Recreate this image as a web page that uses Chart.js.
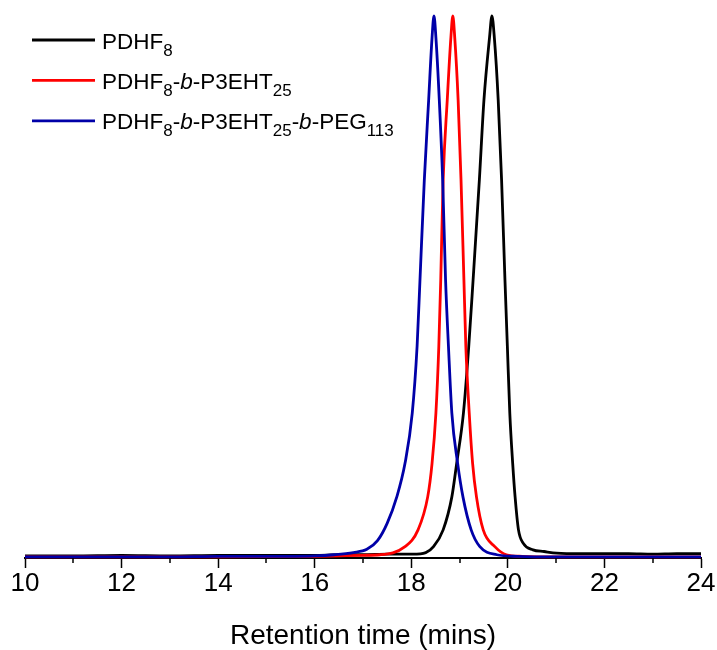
<!DOCTYPE html>
<html>
<head>
<meta charset="utf-8">
<script src="https://cdn.jsdelivr.net/npm/chart.js@4.4.0/dist/chart.umd.min.js"></script>
<style>
    html, body { margin: 0; padding: 0; background: #fff; }
</style>
</head>
<body>
<canvas id="GpcChart" width="717" height="650"></canvas>
<script>
// retention time (mins) and normalised RI signal
const pdhfTime = [10, 11, 12, 13, 14, 15, 16, 16.5, 17, 17.5, 18.03, 18.3, 18.46, 18.66, 18.84, 18.94,
    19.08, 19.19, 19.28, 19.41, 19.505, 19.62, 19.67, 19.72, 19.8, 19.87, 19.94, 19.99, 20.04, 20.1,
    20.15, 20.22, 20.32, 20.52, 20.75, 21.01, 21.5, 22, 22.5, 23, 23.5, 24];
const pdhfSignal = [0.002, 0.002, 0.003, 0.002, 0.003, 0.003, 0.003, 0.004, 0.004, 0.005, 0.005, 0.008, 0.019, 0.05, 0.111, 0.173,
    0.266, 0.389, 0.512, 0.697, 0.845, 0.96, 1.0, 0.96, 0.845, 0.697, 0.512, 0.389, 0.266, 0.173,
    0.111, 0.05, 0.025, 0.013, 0.01, 0.007, 0.006, 0.006, 0.006, 0.005, 0.006, 0.006];

const diblockTime = [10, 12, 14, 16, 16.5, 17, 17.35, 17.87, 18.14, 18.34, 18.43, 18.51, 18.57, 18.61, 18.66,
    18.745, 18.82, 18.86, 18.9, 18.97, 19.03, 19.09, 19.13, 19.2, 19.27, 19.35, 19.49, 19.73, 19.97,
    20.3, 21, 22, 23, 24];
const diblockSignal = [0.0, 0.0, 0.0, 0.001, 0.002, 0.003, 0.004, 0.019, 0.05, 0.111, 0.173, 0.266, 0.389, 0.512, 0.697,
    0.845, 0.96, 1.0, 0.96, 0.845, 0.697, 0.512, 0.389, 0.266, 0.173, 0.111, 0.05, 0.019, 0.004,
    0.001, 0.0, 0.0, 0.0, 0.0];

const triblockTime = [10, 11, 12, 13, 14, 15, 16, 16.4, 16.8, 17.08, 17.3, 17.5, 17.7, 17.87, 18.02, 18.12,
    18.18, 18.27, 18.36, 18.43, 18.47, 18.51, 18.58, 18.65, 18.71, 18.77, 18.84, 18.96, 19.07, 19.24,
    19.42, 19.77, 20.2, 21, 22, 23, 24];
const triblockSignal = [0.0, 0.0, 0.0, 0.0, 0.001, 0.001, 0.002, 0.004, 0.008, 0.014, 0.03, 0.062, 0.111, 0.173, 0.266, 0.389,
    0.512, 0.697, 0.845, 0.96, 1.0, 0.96, 0.845, 0.697, 0.512, 0.389, 0.266, 0.173, 0.111, 0.05,
    0.019, 0.004, 0.001, 0.0, 0.0, 0.0, 0.0];

const seriesNames = ['PDHF8', 'PDHF8-b-P3EHT25', 'PDHF8-b-P3EHT25-b-PEG113'];
const seriesColors = ['#000000', '#ff0000', '#0000a8'];

const FONT = '"Liberation Sans", Arial, sans-serif';

function toPoints(xs, ys) {
    return xs.map((x, i) => ({ x: x, y: ys[i] }));
}

// legend rows with subscripts / italics: [text, kind]
const legendRows = [
    [['PDHF', 'n'], ['8', 'sub']],
    [['PDHF', 'n'], ['8', 'sub'], ['-', 'n'], ['b', 'i'], ['-P3EHT', 'n'], ['25', 'sub']],
    [['PDHF', 'n'], ['8', 'sub'], ['-', 'n'], ['b', 'i'], ['-P3EHT', 'n'], ['25', 'sub'],
        ['-', 'n'], ['b', 'i'], ['-PEG', 'n'], ['113', 'sub']]
];

const richLegend = {
    id: 'richLegend',
    afterDraw(chart) {
        const ctx = chart.ctx;
        ctx.save();
        legendRows.forEach((parts, r) => {
            const yLine = 40 + r * 40.4;
            ctx.strokeStyle = seriesColors[r];
            ctx.lineWidth = 2.8;
            ctx.beginPath();
            ctx.moveTo(32, yLine);
            ctx.lineTo(95, yLine);
            ctx.stroke();

            let x = 102;
            const base = yLine + 8.5;
            ctx.fillStyle = '#000';
            ctx.textBaseline = 'alphabetic';
            ctx.textAlign = 'left';
            parts.forEach(([text, kind]) => {
                if (kind === 'sub') {
                    ctx.font = '17px ' + FONT;
                    ctx.fillText(text, x, base + 7);
                } else {
                    ctx.font = (kind === 'i' ? 'italic ' : '') + '22.5px ' + FONT;
                    ctx.fillText(text, x, base);
                }
                x += ctx.measureText(text).width;
            });
        });
        ctx.restore();
    }
};

// odd-minute minor ticks on the x axis
const minorTicks = {
    id: 'minorTicks',
    afterDraw(chart) {
        const xs = chart.scales.x;
        const ctx = chart.ctx;
        const bottom = chart.chartArea.bottom;
        ctx.save();
        ctx.strokeStyle = '#000';
        ctx.lineWidth = 1.5;
        for (let t = 11; t < 24; t += 2) {
            const px = Math.round(xs.getPixelForValue(t));
            ctx.beginPath();
            ctx.moveTo(px, bottom);
            ctx.lineTo(px, bottom + 5);
            ctx.stroke();
        }
        ctx.restore();
    }
};

const gpcData = {
    datasets: [{
        label: seriesNames[0],
        data: toPoints(pdhfTime, pdhfSignal),
        borderColor: seriesColors[0],
        order: 2
    }, {
        label: seriesNames[1],
        data: toPoints(diblockTime, diblockSignal),
        borderColor: seriesColors[1],
        order: 1
    }, {
        label: seriesNames[2],
        data: toPoints(triblockTime, triblockSignal),
        borderColor: seriesColors[2],
        order: 0
    }]
};

const configGpc = {
    type: 'line',
    data: gpcData,
    options: {
        responsive: false,
        animation: false,
        layout: {
            padding: { left: 25, right: 16, top: 16, bottom: 0 }
        },
        elements: {
            point: { radius: 0 },
            line: { borderWidth: 2.8, cubicInterpolationMode: 'monotone', fill: false }
        },
        datasets: {
            line: { clip: false }
        },
        plugins: {
            legend: { display: false },
            tooltip: { enabled: false }
        },
        scales: {
            x: {
                type: 'linear',
                min: 10,
                max: 24,
                afterFit: (s) => { s.height = 92; },
                ticks: {
                    stepSize: 2,
                    color: '#000',
                    padding: 0,
                    maxRotation: 0,
                    font: { family: FONT, size: 26 }
                },
                grid: {
                    drawOnChartArea: false,
                    drawTicks: true,
                    tickLength: 10,
                    tickColor: '#000',
                    tickWidth: 1.5
                },
                border: { display: true, color: '#000', width: 2 },
                title: {
                    display: true,
                    text: 'Retention time (mins)',
                    color: '#000',
                    font: { family: FONT, size: 28 },
                    padding: { top: 0, bottom: -3 }
                }
            },
            y: {
                display: false,
                min: -0.002,
                max: 1.0
            }
        }
    },
    plugins: [richLegend, minorTicks]
};

const GpcChart = new Chart(
    document.getElementById('GpcChart'),
    configGpc
);
</script>
</body>
</html>
